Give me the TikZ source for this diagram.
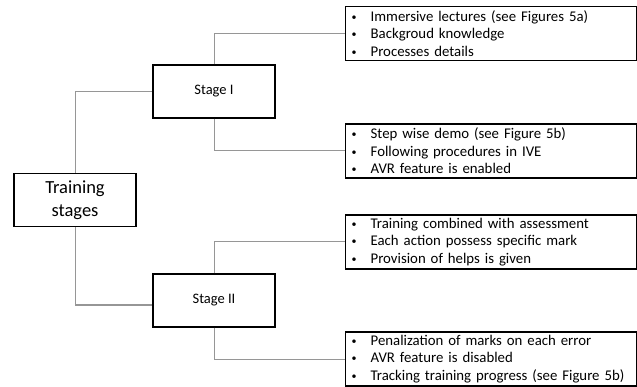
\documentclass[tikz,border=0pt]{standalone}
\usepackage{fontspec}
\setmainfont{Carlito}
\definecolor{conn}{RGB}{150,150,150}
\tikzset{
  stagebox/.style={draw=black, line width=1.3pt, minimum width=122pt, minimum height=53pt, inner sep=0pt, font=\fontsize{14.5}{17.5}\selectfont, align=center},
  rootbox/.style={stagebox, font=\fontsize{18.5}{22.6}\selectfont},
  listbox/.style={draw=black, line width=1.3pt, anchor=west, text width=282pt, inner xsep=4.5pt, inner ysep=0pt, minimum height=54pt, align=left, font=\fontsize{14.8}{17.5}\selectfont},
  conn/.style={draw=conn, line width=1pt}
}
\newcommand{\bitem}[1]{\makebox[20.5pt][l]{\hspace{1.5pt}\raisebox{1.2pt}{\fontsize{10}{10}\selectfont •}}#1}
\begin{document}
\begin{tikzpicture}[x=1pt,y=-1pt]
\useasboundingbox (0,0) rectangle (637,387);
\node[rootbox] (train) at (75,200) {Training\\stages};
\node[stagebox] (s1) at (214,91.5) {Stage I};
\node[stagebox] (s2) at (214,300.5) {Stage II};
\node[listbox] (b1) at (345,33.5) {\bitem{Immersive lectures (see Figures 5a)}\\\bitem{Backgroud knowledge}\\\bitem{Processes details}};
\node[listbox] (b2) at (345,151) {\bitem{Step wise demo (see Figure 5b)}\\\bitem{Following procedures in IVE}\\\bitem{AVR feature is enabled}};
\node[listbox] (b3) at (345,242) {\bitem{Training combined with assessment}\\\bitem{Each action possess specific mark}\\\bitem{Provision of helps is given}};
\node[listbox] (b4) at (345,359) {\bitem{Penalization of marks on each error}\\\bitem{AVR feature is disabled}\\\bitem{Tracking training progress (see Figure 5b)}};
\draw[conn] (train.north) |- (s1.west);
\draw[conn] (train.south) |- ([yshift=-4.5pt]s2.west);
\draw[conn] (s1.north) |- (b1.west);
\draw[conn] (s1.south) |- (b2.west);
\draw[conn] (s2.north) |- (b3.west);
\draw[conn] (s2.south) |- (b4.west);
\end{tikzpicture}
\end{document}
